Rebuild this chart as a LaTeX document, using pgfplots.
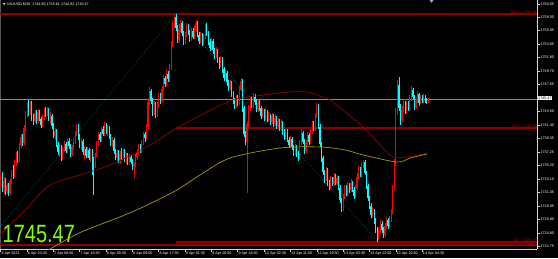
\documentclass[border=0pt]{standalone}
\usepackage{pgfplots}
\pgfplotsset{compat=1.18}
\usepackage{pgfplotstable}
\usepackage{fontspec}
\setmainfont{Liberation Sans}
\newfontfamily\dejavu{DejaVu Sans}
\definecolor{upc}{RGB}{255,0,0}
\definecolor{dnc}{RGB}{0,255,255}
\definecolor{maone}{RGB}{150,0,0}
\definecolor{matwo}{RGB}{165,155,0}
\definecolor{fibc}{RGB}{140,0,0}
\definecolor{fibt}{RGB}{190,0,0}
\definecolor{dotc}{RGB}{30,125,105}
\definecolor{limec}{RGB}{127,255,0}
\definecolor{axcol}{RGB}{210,210,210}
\definecolor{pricec}{RGB}{140,140,140}
\definecolor{shiftc}{RGB}{150,170,210}

\pgfplotstableread{
i o h l c
0 1732.8 1734.0 1731.9 1733.6
1 1733.6 1734.2 1731.2 1731.8
2 1731.8 1733.4 1730.9 1732.9
3 1732.9 1733.3 1730.7 1731.3
4 1731.3 1732.6 1730.8 1732.2
5 1732.2 1732.5 1730.6 1731.0
6 1731.0 1733.2 1730.7 1732.8
7 1732.8 1734.5 1732.4 1734.1
8 1734.1 1735.3 1733.2 1733.7
9 1733.7 1736.0 1733.4 1735.6
10 1735.6 1737.3 1735.2 1736.9
11 1736.9 1737.4 1735.6 1736.1
12 1736.1 1738.7 1735.8 1738.3
13 1738.3 1740.1 1737.9 1739.6
14 1739.6 1740.0 1738.2 1738.7
15 1738.7 1741.5 1738.4 1741.0
16 1741.0 1743.6 1740.6 1743.1
17 1743.1 1745.0 1742.7 1744.6
18 1744.6 1745.3 1742.9 1743.4
19 1743.4 1745.2 1743.0 1744.8
20 1744.8 1745.1 1742.1 1742.5
21 1742.5 1743.2 1741.5 1742.0
22 1742.0 1743.8 1741.7 1743.3
23 1743.3 1743.7 1741.6 1742.1
24 1742.1 1743.9 1741.8 1743.5
25 1743.5 1743.8 1742.0 1742.4
26 1742.4 1742.7 1741.0 1741.5
27 1741.5 1743.0 1741.2 1742.6
28 1742.6 1744.0 1742.2 1743.6
29 1743.6 1744.2 1742.7 1743.1
30 1743.1 1744.2 1742.8 1743.8
31 1743.8 1744.1 1742.1 1742.5
32 1742.5 1743.5 1741.6 1742.9
33 1742.9 1743.2 1740.9 1741.3
34 1741.3 1741.7 1739.4 1739.8
35 1739.8 1741.0 1739.2 1740.5
36 1740.5 1740.8 1738.0 1738.4
37 1738.4 1738.8 1736.9 1737.3
38 1737.3 1738.5 1736.6 1738.0
39 1738.0 1738.3 1735.9 1736.4
40 1736.4 1738.1 1736.1 1737.7
41 1737.7 1739.0 1737.3 1738.6
42 1738.6 1738.9 1737.1 1737.5
43 1737.5 1739.4 1737.2 1739.0
44 1739.0 1739.5 1737.8 1738.2
45 1738.2 1738.5 1736.6 1737.0
46 1737.0 1738.4 1736.7 1738.0
47 1738.0 1739.3 1737.6 1738.9
48 1738.9 1740.6 1738.5 1740.2
49 1740.2 1741.5 1739.8 1741.1
50 1741.1 1741.6 1739.2 1739.6
51 1739.6 1740.0 1737.9 1738.3
52 1738.3 1739.4 1737.6 1739.0
53 1739.0 1739.3 1736.9 1737.3
54 1737.3 1738.2 1736.2 1737.8
55 1737.8 1738.1 1736.3 1736.7
56 1736.7 1738.0 1736.4 1737.6
57 1737.6 1737.9 1736.0 1736.4
58 1736.4 1737.7 1735.8 1737.3
59 1737.3 1737.7 1733.8 1736.2
60 1736.2 1736.6 1730.7 1735.3
61 1735.3 1737.2 1734.8 1736.9
62 1736.9 1739.0 1736.5 1738.6
63 1738.6 1740.4 1738.2 1740.0
64 1740.0 1740.4 1738.8 1739.2
65 1739.2 1741.2 1738.9 1740.8
66 1740.8 1741.3 1739.7 1740.1
67 1740.1 1741.9 1739.8 1741.5
68 1741.5 1741.8 1740.0 1740.4
69 1740.4 1741.4 1739.8 1741.0
70 1741.0 1741.3 1739.3 1739.7
71 1739.7 1740.1 1738.2 1738.6
72 1738.6 1739.6 1738.0 1739.2
73 1739.2 1739.5 1737.0 1737.4
74 1737.4 1737.8 1736.0 1736.4
75 1736.4 1737.6 1735.9 1737.2
76 1737.2 1737.6 1735.6 1736.0
77 1736.0 1737.4 1735.5 1737.0
78 1737.0 1737.9 1736.1 1736.5
79 1736.5 1737.8 1736.2 1737.4
80 1737.4 1737.7 1735.7 1736.1
81 1736.1 1737.2 1735.4 1736.8
82 1736.8 1737.1 1735.3 1735.7
83 1735.7 1737.0 1735.3 1736.6
84 1736.6 1736.9 1735.4 1735.8
85 1735.8 1736.2 1734.6 1735.1
86 1735.1 1735.8 1733.3 1735.4
87 1735.4 1737.0 1735.0 1736.6
88 1736.6 1737.7 1736.0 1737.3
89 1737.3 1738.6 1736.9 1738.2
90 1738.2 1738.5 1737.1 1737.5
91 1737.5 1739.2 1737.2 1738.8
92 1738.8 1740.4 1738.4 1740.0
93 1740.0 1740.4 1738.9 1739.4
94 1739.4 1741.6 1739.1 1741.2
95 1741.2 1745.6 1740.8 1745.0
96 1745.0 1747.3 1744.5 1746.6
97 1746.6 1747.0 1744.7 1745.2
98 1745.2 1745.6 1742.9 1743.4
99 1743.4 1745.1 1743.0 1744.6
100 1744.6 1745.0 1742.6 1743.0
101 1743.0 1745.0 1742.7 1744.5
102 1744.5 1746.4 1744.1 1745.9
103 1745.9 1746.3 1744.7 1745.1
104 1745.1 1747.5 1744.8 1747.0
105 1747.0 1749.2 1746.7 1748.6
106 1748.6 1749.0 1747.3 1747.8
107 1747.8 1749.9 1747.4 1749.3
108 1749.3 1749.8 1748.0 1748.5
109 1748.5 1750.8 1748.1 1750.2
110 1750.2 1754.3 1749.9 1753.8
111 1753.8 1757.5 1753.4 1756.9
112 1756.9 1758.3 1756.3 1758.0
113 1758.0 1758.49 1755.9 1756.4
114 1756.4 1756.8 1754.0 1754.5
115 1754.5 1756.9 1754.1 1756.2
116 1756.2 1757.6 1755.7 1757.1
117 1757.1 1757.4 1755.1 1755.6
118 1755.6 1755.9 1753.7 1754.2
119 1754.2 1755.8 1753.9 1755.3
120 1755.3 1757.2 1755.0 1756.6
121 1756.6 1757.0 1755.3 1755.8
122 1755.8 1756.1 1754.2 1754.7
123 1754.7 1756.4 1754.4 1755.9
124 1755.9 1756.3 1754.6 1755.0
125 1755.0 1756.6 1754.7 1756.1
126 1756.1 1757.6 1755.8 1757.2
127 1757.2 1757.5 1754.9 1755.3
128 1755.3 1755.7 1753.9 1754.4
129 1754.4 1755.7 1754.0 1755.2
130 1755.2 1755.6 1753.6 1754.1
131 1754.1 1755.5 1753.8 1755.0
132 1755.0 1756.9 1754.7 1756.4
133 1756.4 1757.1 1755.2 1755.6
134 1755.6 1755.9 1753.7 1754.2
135 1754.2 1754.6 1752.8 1753.3
136 1753.3 1754.8 1753.0 1754.3
137 1754.3 1754.6 1752.4 1752.9
138 1752.9 1753.3 1751.6 1752.1
139 1752.1 1753.4 1751.8 1752.9
140 1752.9 1753.2 1751.0 1751.5
141 1751.5 1751.9 1750.1 1750.6
142 1750.6 1752.1 1750.3 1751.6
143 1751.6 1751.9 1749.5 1750.0
144 1750.0 1750.4 1748.2 1748.7
145 1748.7 1750.0 1748.4 1749.5
146 1749.5 1749.8 1747.5 1748.0
147 1748.0 1748.4 1746.6 1747.1
148 1747.1 1748.4 1746.8 1747.9
149 1747.9 1748.2 1745.8 1746.3
150 1746.3 1746.7 1744.7 1745.2
151 1745.2 1745.6 1743.9 1744.3
152 1744.3 1746.1 1744.0 1745.6
153 1745.6 1746.0 1744.4 1744.8
154 1744.8 1747.4 1744.5 1746.9
155 1746.9 1748.7 1746.6 1748.2
156 1748.2 1748.5 1743.5 1744.0
157 1744.0 1744.3 1739.6 1740.1
158 1740.1 1740.5 1738.3 1738.8
159 1738.8 1742.0 1731.0 1741.6
160 1741.6 1744.5 1741.2 1744.0
161 1744.0 1745.8 1743.6 1745.3
162 1745.3 1745.7 1744.0 1744.4
163 1744.4 1746.4 1744.1 1745.8
164 1745.8 1746.2 1744.5 1745.0
165 1745.0 1745.4 1743.4 1743.8
166 1743.8 1745.4 1743.5 1744.9
167 1744.9 1745.3 1743.6 1744.0
168 1744.0 1744.3 1742.3 1742.8
169 1742.8 1744.1 1742.5 1743.6
170 1743.6 1743.9 1742.0 1742.5
171 1742.5 1744.0 1742.2 1743.5
172 1743.5 1743.8 1741.9 1742.3
173 1742.3 1743.4 1741.9 1742.9
174 1742.9 1743.2 1741.5 1741.9
175 1741.9 1743.3 1741.6 1742.8
176 1742.8 1743.1 1741.2 1741.6
177 1741.6 1743.1 1741.3 1742.6
178 1742.6 1742.9 1740.9 1741.3
179 1741.3 1742.5 1740.9 1742.0
180 1742.0 1742.3 1740.5 1740.9
181 1740.9 1742.3 1740.6 1741.8
182 1741.8 1742.1 1739.9 1740.4
183 1740.4 1740.8 1739.1 1739.6
184 1739.6 1741.0 1739.3 1740.5
185 1740.5 1740.8 1738.8 1739.2
186 1739.2 1739.6 1737.9 1738.4
187 1738.4 1739.8 1738.1 1739.3
188 1739.3 1739.6 1737.6 1738.0
189 1738.0 1738.4 1736.7 1737.2
190 1737.2 1738.6 1736.9 1738.1
191 1738.1 1738.4 1736.5 1737.0
192 1737.0 1737.4 1735.9 1736.4
193 1736.4 1739.1 1736.1 1738.6
194 1738.6 1740.8 1738.3 1740.2
195 1740.2 1740.5 1738.5 1738.9
196 1738.9 1739.3 1737.0 1737.5
197 1737.5 1739.2 1737.2 1738.7
198 1738.7 1740.4 1738.4 1739.9
199 1739.9 1740.2 1738.4 1738.8
200 1738.8 1740.9 1738.5 1740.4
201 1740.4 1742.1 1740.1 1741.6
202 1741.6 1742.0 1740.5 1740.9
203 1740.9 1743.3 1740.6 1742.8
204 1742.8 1744.8 1742.5 1744.3
205 1744.3 1744.6 1740.8 1741.2
206 1741.2 1741.6 1738.0 1738.5
207 1738.5 1738.9 1735.8 1736.3
208 1736.3 1736.7 1733.7 1734.2
209 1734.2 1734.6 1732.6 1733.1
210 1733.1 1735.0 1732.8 1734.4
211 1734.4 1734.8 1732.1 1732.6
212 1732.6 1733.0 1731.4 1731.9
213 1731.9 1733.6 1731.6 1733.1
214 1733.1 1733.5 1732.0 1732.4
215 1732.4 1734.0 1732.1 1733.5
216 1733.5 1733.9 1732.2 1732.6
217 1732.6 1733.8 1732.2 1733.3
218 1733.3 1733.6 1731.4 1731.8
219 1731.8 1732.2 1729.4 1729.9
220 1729.9 1730.3 1728.1 1728.6
221 1728.6 1730.9 1728.3 1730.4
222 1730.4 1732.3 1730.1 1731.8
223 1731.8 1732.2 1730.5 1730.9
224 1730.9 1732.7 1730.6 1732.2
225 1732.2 1732.6 1731.0 1731.4
226 1731.4 1733.1 1731.1 1732.6
227 1732.6 1732.9 1731.1 1731.5
228 1731.5 1731.9 1730.1 1730.6
229 1730.6 1732.2 1730.3 1731.7
230 1731.7 1734.0 1731.4 1733.5
231 1733.5 1735.1 1733.2 1734.6
232 1734.6 1735.0 1733.4 1733.8
233 1733.8 1735.7 1733.5 1735.2
234 1735.2 1736.1 1734.8 1735.8
235 1735.8 1736.0 1733.7 1734.1
236 1734.1 1734.4 1731.6 1732.0
237 1732.0 1732.4 1729.7 1730.2
238 1730.2 1730.6 1728.5 1729.0
239 1729.0 1729.4 1727.1 1727.6
240 1727.6 1728.8 1727.2 1728.3
241 1728.3 1728.6 1726.3 1726.8
242 1726.8 1727.2 1724.9 1725.4
243 1725.4 1725.8 1723.47 1724.2
244 1724.2 1725.6 1723.8 1725.1
245 1725.1 1726.8 1724.8 1726.3
246 1726.3 1726.7 1724.9 1725.3
247 1725.3 1725.7 1724.1 1724.6
248 1724.6 1726.4 1724.3 1725.9
249 1725.9 1727.3 1725.6 1726.8
250 1726.8 1727.2 1725.5 1725.9
251 1725.9 1727.4 1725.6 1726.9
252 1726.9 1728.6 1726.6 1728.1
253 1728.1 1732.3 1727.8 1731.8
254 1731.8 1736.2 1731.4 1735.6
255 1735.6 1744.0 1735.2 1743.5
256 1743.5 1748.3 1743.0 1747.6
257 1747.6 1748.8 1743.6 1744.1
258 1744.1 1744.6 1741.5 1742.2
259 1742.2 1744.3 1741.9 1743.8
260 1743.8 1745.4 1743.4 1744.9
261 1744.9 1745.2 1743.1 1743.6
262 1743.6 1745.2 1743.3 1744.7
263 1744.7 1745.1 1743.6 1744.0
264 1744.0 1746.0 1743.7 1745.5
265 1745.5 1747.4 1745.2 1746.9
266 1746.9 1747.2 1745.4 1745.8
267 1745.8 1746.1 1743.7 1744.2
268 1744.2 1745.6 1743.9 1745.1
269 1745.1 1746.6 1744.8 1746.2
270 1746.2 1746.4 1744.4 1744.9
271 1744.9 1746.1 1744.6 1745.7
272 1745.7 1746.0 1744.8 1745.1
273 1745.1 1746.2 1744.9 1745.8
274 1745.8 1746.0 1744.9 1745.2
275 1745.2 1745.6 1744.7 1744.96
276 1744.96 1745.61 1744.82 1745.47
}\candles

\newcommand\tinyf{\fontsize{3.7}{4}\selectfont}

\begin{document}
\begin{tikzpicture}
\fill[black, use as bounding box] (0pt,-9pt) rectangle (558pt,249pt);
\draw[pricec!60!black, line width=0.5pt] (0.4pt,0pt) -- (0.4pt,249pt);
\begin{axis}[
  at={(0pt,0pt)}, anchor=south west, scale only axis,
  width=537pt, height=249pt,
  xmin=-0.43, xmax=346.2, ymin=1722.39, ymax=1760.66,
  axis x line*=bottom, axis y line*=right,
  axis line style={axcol, line width=0.6pt},
  tick align=outside, major tick length=2.5pt,
  tick style={axcol, line width=0.4pt},
  xtick={0,17,...,272},
  xticklabels={6 Apr 2021, 6 Apr 23:30, 7 Apr 08:00, 7 Apr 16:30, 8 Apr 00:30, 8 Apr 09:00, 8 Apr 17:30, 9 Apr 01:30, 9 Apr 10:00, 9 Apr 18:30, 12 Apr 02:30, 12 Apr 11:00, 12 Apr 19:30, 13 Apr 03:30, 13 Apr 12:00, 13 Apr 20:30, 14 Apr 04:30},
  ytick={1760.05,1758.00,1755.95,1753.85,1751.80,1749.70,1747.65,1743.50,1741.40,1739.35,1737.25,1735.20,1733.10,1731.05,1728.95,1726.90,1724.80,1722.75},
  yticklabels={1760.05,1758.00,1755.95,1753.85,1751.80,1749.70,1747.65,1743.50,1741.40,1739.35,1737.25,1735.20,1733.10,1731.05,1728.95,1726.90,1724.80,1722.75},
  xticklabel style={font=\tinyf, text=white, anchor=north west, inner sep=0.4pt, xshift=0.3pt},
  yticklabel style={font=\tinyf, text=white, anchor=west, inner sep=0.4pt, xshift=0.5pt},
  clip=true, unbounded coords=discard,
]
% Fibonacci / horizontal levels
\addplot[fibc, line width=1.6pt, forget plot] coordinates {(-0.43,1758.49) (346.2,1758.49)};
\addplot[fibc, line width=1.2pt, forget plot] coordinates {(113.2,1740.98) (346.2,1740.98)};
\addplot[fibc, line width=1.2pt, forget plot] coordinates {(113.2,1723.47) (346.2,1723.47)};
\addplot[fibc, line width=1.2pt, forget plot] coordinates {(-0.43,1723.00) (346.2,1723.00)};
% current price line
\addplot[pricec, line width=0.5pt, forget plot] coordinates {(-0.43,1745.47) (346.2,1745.47)};
% dotted trend lines
\addplot[dotc, line width=0.6pt, dotted, forget plot] coordinates {(-0.43,1725.85) (113.2,1758.49)};
\addplot[dotc, line width=0.6pt, dotted, forget plot] coordinates {(113.2,1758.49) (243.6,1723.47)};
% wicks (up = red, down = cyan)
\addplot[upc, line width=0.45pt, mark=none, forget plot, quiver={u=0, v=\thisrow{h}-\thisrow{l}}]
  table[x=i, y expr={\thisrow{c}>=\thisrow{o} ? \thisrow{l} : nan}] {\candles};
\addplot[dnc, line width=0.45pt, mark=none, forget plot, quiver={u=0, v=\thisrow{h}-\thisrow{l}}]
  table[x=i, y expr={\thisrow{c}<\thisrow{o} ? \thisrow{l} : nan}] {\candles};
% bodies
\addplot[upc, line width=1.0pt, mark=none, forget plot, quiver={u=0, v=\thisrow{c}-\thisrow{o}}]
  table[x=i, y expr={\thisrow{c}>=\thisrow{o} ? \thisrow{o} : nan}] {\candles};
\addplot[dnc, line width=1.0pt, mark=none, forget plot, quiver={u=0, v=\thisrow{o}-\thisrow{c}}]
  table[x=i, y expr={\thisrow{c}<\thisrow{o} ? \thisrow{c} : nan}] {\candles};
% moving averages
\addplot[maone, line width=0.7pt, smooth, forget plot] coordinates {
(-0.43,1724.50) (17.0,1728.69) (31.9,1732.23) (57.7,1734.22) (75.1,1735.76) (96.4,1738.37)
(113.8,1740.99) (131.9,1743.29) (150.0,1745.29) (169.4,1746.06) (186.8,1746.52)
(197.8,1746.52) (206.2,1745.90) (212.6,1745.29) (222.3,1743.45) (234.0,1741.14)
(244.9,1738.37) (253.3,1736.53) (262.3,1736.53) (275.9,1737.14)};
\addplot[matwo, line width=0.7pt, smooth, forget plot] coordinates {
(22.2,1721.00) (49.3,1724.70) (77.0,1727.31) (93.2,1728.99) (113.8,1731.46)
(128.7,1733.77) (148.1,1736.38) (180.3,1737.91) (206.2,1738.07) (222.3,1737.61)
(234.0,1736.84) (255.9,1735.76) (264.3,1736.38) (275.2,1736.99)};
% level labels
\node[fibt, font=\tinyf, anchor=south east, inner sep=0.3pt] at (axis cs:346.0,1758.49) {100.0 - 1758.49};
\node[fibt, font=\tinyf, anchor=south east, inner sep=0.3pt] at (axis cs:346.0,1740.98) {50.0 - 1740.98};
\node[fibt, font=\tinyf, anchor=south east, inner sep=0.3pt] at (axis cs:346.0,1723.47) {0.0 - 1723.47};
\end{axis}
% chart shift marker
\fill[shiftc] (429.5pt,249pt) -- (433.5pt,249pt) -- (431.5pt,246.2pt) -- cycle;
% current price box
\node[fill=white, text=black, font=\tinyf, anchor=west, inner sep=0.5pt] at (537.5pt,150.8pt) {1745.47};
% title
\node[text=white, font=\tinyf, anchor=west, inner sep=0pt] at (3pt,245pt) {{\dejavu\fontsize{3}{3}\selectfont ▼}\ XAUUSD,M30\ \ 1744.96 1745.61 1744.82 1745.47};
% big price
\node[text=limec, anchor=south west, inner sep=0pt] at (2.5pt,6pt) {\scalebox{0.8}[1]{\fontsize{25}{25}\selectfont 1745.47}};
\end{tikzpicture}
\end{document}
